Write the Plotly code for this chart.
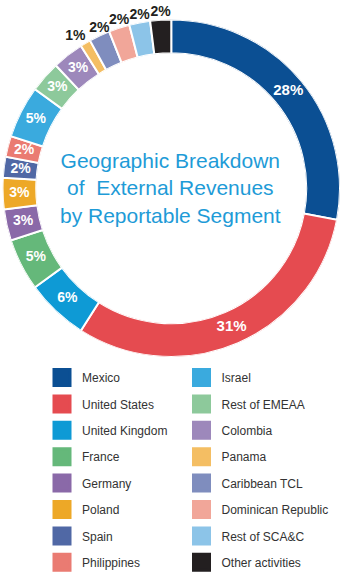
import plotly.graph_objects as go

labels = ["Mexico", "United States", "United Kingdom", "France", "Germany", "Poland",
          "Spain", "Philippines", "Israel", "Rest of EMEAA", "Colombia", "Panama",
          "Caribbean TCL", "Dominican Republic", "Rest of SCA&C", "Other activities"]
values = [28, 31, 6, 5, 3, 3, 2, 2, 5, 3, 3, 1, 2, 2, 2, 2]
colors = ["#0B4F93", "#E54B50", "#0E9AD5", "#65B87A", "#8A69A8", "#EDA827",
          "#5068A5", "#EA7B72", "#3AAADE", "#8DC99B", "#9D88BB", "#F4BE63",
          "#7F8DBE", "#F1A699", "#8CC4E8", "#231F20"]
label_outside = [False] * 11 + [True] * 5
outside_pos = {"Panama": "top left"}

W, H = 341, 577
HOLE = 0.8

total = sum(values)
cum = 0
theta_mid, widths = [], []
for v in values:
    theta_mid.append((cum + v / 2) / total * 360)
    widths.append(v / total * 360)
    cum += v

domain = dict(x=[2.5 / W, 340 / W], y=[1 - 357 / H, 1 - 19.5 / H])

fig = go.Figure()
fig.add_trace(go.Barpolar(
    r=[1] * len(values), theta=theta_mid, width=widths,
    marker=dict(color=colors, line=dict(color="white", width=2)),
    customdata=labels, hovertemplate="%{customdata}: %{text}<extra></extra>",
    text=[f"{v}%" for v in values],
    showlegend=False, subplot="polar",
))

ins = [i for i, o in enumerate(label_outside) if not o]
outs = [i for i, o in enumerate(label_outside) if o]

fig.add_trace(go.Scatterpolar(
    r=[0.5] * len(ins), theta=[theta_mid[i] for i in ins], mode="text",
    text=[f"{values[i]}%" for i in ins], textposition="middle center",
    textfont=dict(family="Liberation Sans", size=[15 if values[i] > 20 else 14 for i in ins],
                  color="white", weight="bold"),
    cliponaxis=False, hoverinfo="skip", showlegend=False, subplot="polar",
))
fig.add_trace(go.Scatterpolar(
    r=[0.999] * len(outs), theta=[theta_mid[i] for i in outs], mode="text",
    text=[f"{values[i]}%" for i in outs],
    textposition=[outside_pos.get(labels[i], "top center") for i in outs],
    textfont=dict(family="Liberation Sans", size=14, color="#231F20", weight="bold"),
    cliponaxis=False, hoverinfo="skip", showlegend=False, subplot="polar",
))

for i, (lab, col) in enumerate(zip(labels, colors)):
    fig.add_trace(go.Scatterpolar(
        r=[None], theta=[None], mode="markers", name=lab,
        marker=dict(symbol="square", size=16, color=col, line=dict(color=col, width=3)),
        legend="legend" if i < 8 else "legend2", legendgroup=lab, showlegend=True,
        subplot="polar",
    ))

legend_common = dict(
    font=dict(family="Liberation Sans", size=12, color="#333333"),
    traceorder="grouped", tracegroupgap=7.4, bgcolor="rgba(0,0,0,0)",
    xanchor="left", yanchor="bottom", y=0, itemclick=False, itemdoubleclick=False,
)

fig.update_layout(
    width=W, height=H, margin=dict(l=0, r=0, t=0, b=0, autoexpand=False),
    paper_bgcolor="white",
    polar=dict(
        domain=domain, hole=HOLE, bgcolor="rgba(0,0,0,0)", bargap=0,
        radialaxis=dict(range=[0, 1], visible=False, showgrid=False),
        angularaxis=dict(rotation=90, direction="clockwise", visible=False, showgrid=False),
    ),
    legend=dict(x=42 / W, **legend_common),
    legend2=dict(x=181.5 / W, **legend_common),
    annotations=[dict(
        x=0.5, y=1 - 188 / H, xref="paper", yref="paper", showarrow=False,
        xanchor="center", yanchor="middle",
        text="Geographic Breakdown<br>of  External Revenues<br>by Reportable Segment",
        font=dict(family="Liberation Sans", size=21, color="#1E9BD7"),
        align="center",
    )],
)

fig.write_html("out.html")
